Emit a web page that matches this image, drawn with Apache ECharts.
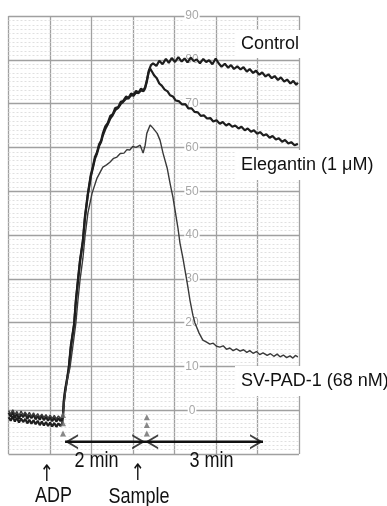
<!DOCTYPE html>
<html>
<head>
<meta charset="utf-8">
<script src="https://cdn.jsdelivr.net/npm/echarts@6/dist/echarts.min.js"></script>
<style>
html,body{margin:0;padding:0;background:#fff;}
#chart{width:387px;height:506px;}
</style>
</head>
<body>
<div id="chart"></div>
<script>
// ---- data (time in minutes after ADP, aggregation %) ----
var yTicks = [0, 10, 20, 30, 40, 50, 60, 70, 80, 90];
var seriesNames = ['Control', 'Elegantin (1 μM)', 'SV-PAD-1 (68 nM)'];

var controlTrace = [
  [-1.31,-0.6],[-1.26,-1.5],[-1.21,-0.4],[-1.16,-1.7],[-1.11,-0.8],[-1.06,-1.9],[-1.01,-0.9],[-0.96,-1.6],[-0.91,-0.7],
  [-0.86,-2.0],[-0.81,-1.1],[-0.76,-1.8],[-0.71,-1.0],[-0.66,-2.1],[-0.61,-1.3],[-0.56,-2.2],[-0.51,-1.2],[-0.46,-2.3],
  [-0.41,-1.5],[-0.36,-2.4],[-0.31,-1.6],[-0.26,-2.5],[-0.21,-1.7],[-0.16,-2.6],[-0.11,-1.8],[-0.06,-2.5],[-0.02,-1.9],
  [0,-0.9],[0.02,2.3],[0.05,4.6],[0.10,7.3],[0.14,9.8],[0.19,14.8],[0.27,19.9],[0.31,25.1],[0.36,29.7],[0.41,34.2],
  [0.48,38.8],[0.53,44.3],[0.60,49.5],[0.67,53.7],[0.72,55.6],[0.77,57.8],[0.82,58.9],[0.87,60.7],[0.92,61.6],
  [0.96,63.2],[1.02,64.8],[1.08,65.6],[1.14,67.2],[1.20,67.6],[1.26,69.0],[1.33,69.2],[1.39,70.4],[1.45,70.6],
  [1.52,71.6],[1.58,71.3],[1.64,72.3],[1.70,72.0],[1.76,72.9],[1.82,72.5],[1.88,73.4],[1.94,73.0],[1.98,73.8],
  [2.02,75.3],[2.07,77.6],[2.12,78.8],[2.17,79.2],[2.25,78.6],[2.32,79.8],[2.40,79.0],[2.48,80.2],[2.55,79.3],
  [2.62,80.4],[2.70,79.5],[2.78,80.6],[2.86,79.6],[2.93,80.3],[3.00,79.4],[3.08,80.5],[3.15,79.7],[3.22,80.1],
  [3.30,79.2],[3.38,80.2],[3.45,79.5],[3.52,79.9],[3.60,79.0],[3.68,80.3],[3.75,79.2],[3.82,78.4],[3.90,79.1],
  [3.98,78.2],[4.05,78.8],[4.12,77.9],[4.20,78.5],[4.28,77.8],[4.35,78.3],[4.43,77.3],[4.50,77.9],[4.58,77.0],
  [4.65,77.5],[4.73,76.6],[4.80,77.1],[4.88,76.2],[4.95,76.7],[5.03,75.8],[5.10,76.3],[5.18,75.4],[5.25,76.0],
  [5.33,75.0],[5.40,75.5],[5.48,74.6],[5.55,75.2],[5.62,74.3],[5.66,74.8]
];

var elegantinTrace = [
  [-1.31,-1.6],[-1.26,-2.4],[-1.21,-1.4],[-1.16,-2.6],[-1.11,-1.7],[-1.06,-2.8],[-1.01,-1.9],[-0.96,-2.7],[-0.91,-2.0],
  [-0.86,-3.0],[-0.81,-2.2],[-0.76,-3.1],[-0.71,-2.3],[-0.66,-3.2],[-0.61,-2.4],[-0.56,-3.4],[-0.51,-2.6],[-0.46,-3.5],
  [-0.41,-2.7],[-0.36,-3.6],[-0.31,-2.8],[-0.26,-3.7],[-0.21,-2.9],[-0.16,-3.8],[-0.11,-3.0],[-0.06,-3.6],[-0.02,-3.0],
  [0,-1.5],[0.02,1.8],[0.05,4.2],[0.10,7.0],[0.14,9.5],[0.19,14.4],[0.27,19.6],[0.31,24.7],[0.36,29.4],[0.41,33.9],
  [0.48,38.5],[0.53,43.9],[0.60,49.2],[0.67,53.3],[0.72,55.3],[0.77,57.4],[0.82,58.6],[0.87,60.3],[0.92,61.3],
  [0.96,62.7],[1.02,64.2],[1.08,65.3],[1.14,66.6],[1.20,67.4],[1.26,68.5],[1.33,69.0],[1.39,69.9],[1.45,70.4],
  [1.52,71.1],[1.58,71.2],[1.64,71.9],[1.70,71.8],[1.76,72.5],[1.82,72.4],[1.88,73.0],[1.94,72.8],[1.98,73.5],
  [2.02,75.0],[2.06,77.0],[2.10,78.0],[2.15,77.2],[2.20,76.4],[2.26,75.8],[2.32,74.6],[2.38,74.1],[2.45,73.2],
  [2.52,72.8],[2.58,71.9],[2.65,71.6],[2.72,70.7],[2.80,70.5],[2.87,69.8],[2.95,69.9],[3.02,68.9],[3.10,68.9],
  [3.17,68.1],[3.25,68.0],[3.32,67.2],[3.40,67.3],[3.47,66.6],[3.55,66.7],[3.62,65.9],[3.70,66.2],[3.78,65.4],
  [3.85,65.8],[3.93,65.0],[4.00,65.4],[4.08,64.7],[4.15,65.0],[4.23,64.3],[4.30,64.7],[4.38,63.9],[4.45,64.3],
  [4.53,63.6],[4.60,63.9],[4.68,63.1],[4.75,63.5],[4.83,62.7],[4.90,63.0],[4.98,62.2],[5.05,62.6],[5.13,61.8],
  [5.20,62.1],[5.28,61.3],[5.35,61.7],[5.43,60.9],[5.50,61.2],[5.58,60.5],[5.66,60.8]
];

var svpadTrace = [
  [-1.31,-0.1],[-1.26,-0.9],[-1.21,0.1],[-1.16,-1.0],[-1.11,-0.3],[-1.06,-1.2],[-1.01,-0.2],[-0.96,-1.1],[-0.91,-0.4],
  [-0.86,-1.3],[-0.81,-0.5],[-0.76,-1.4],[-0.71,-0.6],[-0.66,-1.5],[-0.61,-0.8],[-0.56,-1.6],[-0.51,-0.9],[-0.46,-1.7],
  [-0.41,-1.0],[-0.36,-1.8],[-0.31,-1.1],[-0.26,-1.9],[-0.21,-1.2],[-0.16,-2.0],[-0.11,-1.3],[-0.06,-1.9],[-0.02,-1.4],
  [0,-0.9],[0.05,3.4],[0.10,6.8],[0.17,9.8],[0.24,14.8],[0.31,19.9],[0.36,25.1],[0.41,29.7],[0.48,34.7],[0.53,39.7],
  [0.60,45.0],[0.70,49.5],[0.82,53.0],[0.96,55.5],[1.05,56.0],[1.13,56.6],[1.22,57.5],[1.30,57.8],[1.38,58.6],
  [1.47,58.7],[1.54,59.5],[1.61,59.4],[1.68,60.2],[1.76,60.0],[1.86,60.5],[1.93,58.7],[1.98,60.5],[2.02,63.2],
  [2.10,65.1],[2.17,64.4],[2.27,63.2],[2.34,61.6],[2.41,58.7],[2.51,55.3],[2.58,51.8],[2.65,48.6],[2.70,45.7],
  [2.77,41.6],[2.82,38.1],[2.89,34.7],[2.94,32.0],[3.01,28.1],[3.06,25.1],[3.13,21.7],[3.18,19.9],[3.28,17.6],
  [3.37,16.0],[3.45,15.6],[3.54,15.1],[3.62,15.3],[3.70,14.6],[3.78,14.4],[3.86,14.7],[3.94,13.9],[4.02,14.2],
  [4.10,13.6],[4.18,14.0],[4.27,13.5],[4.35,13.8],[4.43,13.2],[4.50,13.6],[4.58,13.0],[4.66,13.4],[4.74,12.7],
  [4.82,13.1],[4.92,12.5],[5.00,12.9],[5.08,12.3],[5.16,12.8],[5.23,12.2],[5.31,12.6],[5.39,12.0],[5.47,12.4],
  [5.54,11.9],[5.60,12.5],[5.66,12.2]
];

var adpMarks = [[0,-1.1],[0,-3.0],[0,-5.3]];
var sampleMarks = [[2.02,-1.6],[2.02,-3.4],[2.02,-5.3]];
var arrowShaft = [[0.05,-7.2],[4.82,-7.2]];
var arrowOpenLeft = [[0.05,-7.2],[1.98,-7.2]];
var arrowOpenRight = [[1.98,-7.2],[4.82,-7.2]];

// ---- chart ----
var chart = echarts.init(document.getElementById('chart'), null, {renderer:'canvas'});
var FONT = '"Liberation Sans", Arial, sans-serif';
var traceStyle = function(w, c){ return {width:w, color:c}; };

var option = {
  animation:false,
  backgroundColor:'#fff',
  grid:{left:8.5, right:88, top:16, bottom:52, containLabel:false, outerBoundsMode:'none'},
  xAxis:[
    {type:'value', min:0, max:7, interval:1,
     axisLine:{show:false}, axisTick:{show:false}, axisLabel:{show:false},
     splitLine:{show:true, lineStyle:{color:'#a0a0a0', width:1.3}}},
    {type:'value', min:-1.313, max:5.687, show:false}
  ],
  yAxis:{type:'value', min:-10, max:90, interval:10, z:1,
    position:'left', offset:-183.5,
    axisLine:{show:false}, axisTick:{show:false},
    axisLabel:{inside:true, margin:0, align:'center', color:'#a8a8a8', fontSize:12, fontFamily:FONT,
      backgroundColor:'#fff', padding:[0,1],
      formatter:function(v){ return yTicks.indexOf(v) >= 0 ? String(v) : ''; }},
    splitLine:{show:true, lineStyle:{color:'#a0a0a0', width:1.3}},
    minorTick:{show:false, splitNumber:10},
    minorSplitLine:{show:true, lineStyle:{color:'#e0e0e0', width:1, type:[2,2]}}
  },
  series:[
    {name:seriesNames[0], type:'line', xAxisIndex:1, data:controlTrace, showSymbol:false, z:5,
     lineStyle:traceStyle(2.2,'#1e1e1e')},
    {name:seriesNames[1], type:'line', xAxisIndex:1, data:elegantinTrace, showSymbol:false, z:5,
     lineStyle:traceStyle(2.2,'#1e1e1e')},
    {name:seriesNames[2], type:'line', xAxisIndex:1, data:svpadTrace, showSymbol:false, z:5,
     lineStyle:traceStyle(1.4,'#3a3a3a')},
    {name:'events', type:'scatter', xAxisIndex:1, data:adpMarks.concat(sampleMarks), symbol:'triangle',
     symbolSize:6, itemStyle:{color:'#6a6a6a'}, z:8, silent:true},
    {name:'shaft', type:'line', xAxisIndex:1, data:arrowShaft, showSymbol:false, z:6,
     lineStyle:{width:2.6, color:'#111'}},
    {name:'headL', type:'scatter', xAxisIndex:1, data:arrowOpenLeft, z:6,
     symbol:'path://M12,0 L0,7 L12,14 L12,12.2 L3.6,7 L12,1.8 Z', symbolKeepAspect:false,
     symbolSize:[13,15], symbolOffset:[6.5,0], itemStyle:{color:'#111'}},
    {name:'headR', type:'scatter', xAxisIndex:1, data:arrowOpenRight, z:6,
     symbol:'path://M0,0 L12,7 L0,14 L0,12.2 L8.4,7 L0,1.8 Z', symbolKeepAspect:false,
     symbolSize:[13,15], symbolOffset:[-6.5,0], itemStyle:{color:'#111'}}
  ],
  graphic:[]
};
chart.setOption(option);

function txt(text, x, y, opt){
  opt = opt || {};
  return {type:'text', x:x, y:y, scaleY:opt.sy || 1, z:100,
    style:{text:text, x:0, y:0, fill:'#111', font:(opt.size||18)+'px '+(opt.family||FONT),
      textAlign:opt.align||'left', align:opt.align||'left',
      textVerticalAlign:'middle', verticalAlign:'middle',
      backgroundColor:opt.bg||null, padding:opt.pad||0}};
}
chart.setOption({graphic:[
  txt(seriesNames[0], 235, 44, {bg:'#fff', pad:[5,6,5,6]}),
  txt(seriesNames[1], 235, 165, {bg:'#fff', pad:[6,6,6,6]}),
  txt(seriesNames[2], 235, 381, {bg:'#fff', pad:[6,6,6,6]}),
  txt('2 min', 96.5, 461, {align:'center', sy:1.18}),
  txt('3 min', 211.5, 461, {align:'center', sy:1.18}),
  txt('↑', 46.5, 475, {align:'center', size:17, sy:1.35, family:'"DejaVu Sans", sans-serif'}),
  txt('↑', 137.5, 474, {align:'center', size:17, sy:1.35, family:'"DejaVu Sans", sans-serif'}),
  txt('ADP', 53.5, 496, {align:'center', sy:1.22}),
  txt('Sample', 139, 497, {align:'center', sy:1.2})
]});
</script>
</body>
</html>
